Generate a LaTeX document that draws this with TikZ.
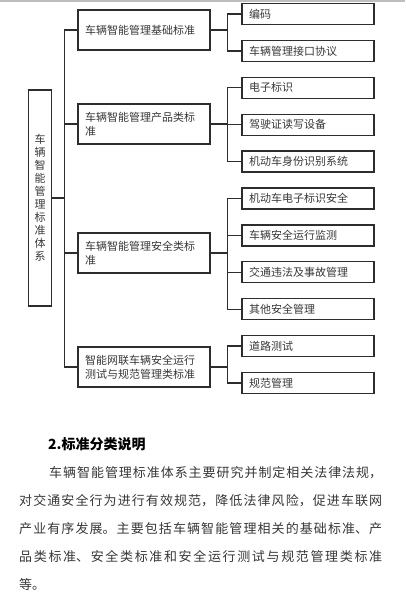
\documentclass[tikz,border=0pt]{standalone}
\usepackage{fontspec}
\usepackage{xcolor}
\usetikzlibrary{positioning, calc}
\setmainfont{Noto Sans CJK SC}
\XeTeXlinebreaklocale "zh"
\XeTeXlinebreakskip=0pt plus 2pt
\newcommand{\boxfont}{\fontsize{11pt}{14pt}\selectfont}
\newcommand{\bodyfont}{\fontsize{13pt}{28pt}\selectfont}
\definecolor{linegray}{RGB}{45, 45, 45}
\definecolor{textgray}{RGB}{55, 55, 55}
\definecolor{rulegray}{RGB}{190, 190, 190}
\tikzset{
  % Root box (vertical title)
  rootbox/.style={
    rectangle, draw=linegray, line width=1.3pt,
    minimum width=23pt, minimum height=216pt, inner sep=0pt,
    font=\fontsize{11pt}{13pt}\selectfont, align=center, text=textgray
  },
  % Category box
  catbox/.style={
    rectangle, draw=linegray, line width=1.3pt,
    minimum width=132pt, minimum height=40pt, inner xsep=7pt,
    text width=118pt, font=\boxfont, align=left, text=textgray
  },
  % Item box
  itembox/.style={
    rectangle, draw=linegray, line width=1.3pt,
    minimum width=132pt, minimum height=21pt, inner xsep=7pt, inner ysep=0pt,
    text width=118pt, font=\boxfont, align=left, text=textgray
  },
  % Elbow connector
  link/.style={line width=1.3pt, color=linegray},
}

\begin{document}
\begin{tikzpicture}[x=1pt, y=-1pt, node distance=14.6pt]
  \useasboundingbox (0,0) rectangle (405,602);
  \fill[rulegray] (0,0) rectangle (405,2.5);

  \node[rootbox] (root) at (40,198) {车\\辆\\智\\能\\管\\理\\标\\准\\体\\系};

  \node[catbox] (c1) at (144,30)  {车辆智能管理基础标准};
  \node[catbox] (c2) at (144,124) {车辆智能管理产品类标\\准};
  \node[catbox] (c3) at (144,253) {车辆智能管理安全类标\\准};
  \node[catbox] (c4) at (144,367) {智能网联车辆安全运行\\测试与规范管理类标准};

  \node[itembox] (i1) at (308,14) {编码};
  \node[itembox, below=of i1]  (i2)  {车辆管理接口协议};
  \node[itembox, below=of i2]  (i3)  {电子标识};
  \node[itembox, below=of i3]  (i4)  {驾驶证读写设备};
  \node[itembox, below=of i4]  (i5)  {机动车身份识别系统};
  \node[itembox, below=of i5]  (i6)  {机动车电子标识安全};
  \node[itembox, below=of i6]  (i7)  {车辆安全运行监测};
  \node[itembox, below=of i7]  (i8)  {交通违法及事故管理};
  \node[itembox, below=of i8]  (i9)  {其他安全管理};
  \node[itembox, below=of i9]  (i10) {道路测试};
  \node[itembox, below=of i10] (i11) {规范管理};

  \foreach \c in {c1,c2,c3,c4}
    \draw[link] (root.east) -- ++(12pt,0) |- (\c.west);
  \foreach \i in {i1,i2}
    \draw[link] (c1.east) -- ++(17pt,0) |- (\i.west);
  \foreach \i in {i3,i4,i5}
    \draw[link] (c2.east) -- ++(17pt,0) |- (\i.west);
  \foreach \i in {i6,i7,i8,i9}
    \draw[link] (c3.east) -- ++(17pt,0) |- (\i.west);
  \foreach \i in {i10,i11}
    \draw[link] (c4.east) -- ++(17pt,0) |- (\i.west);

  \node[anchor=west, inner sep=0pt, font=\bfseries\fontsize{14pt}{16pt}\selectfont]
    (head) at (48,444) {2.标准分类说明};
  \node[anchor=north west, inner sep=0pt, text width=363pt, align=justify,
    font=\bodyfont, text=textgray] (body) at (19,466)
    {\hspace*{30pt}车辆智能管理标准体系主要研究并制定相关法律法规，\linebreak
     对交通安全行为进行有效规范，降低法律风险，促进车联网\linebreak
     产业有序发展。主要包括车辆智能管理相关的基础标准、产\linebreak
     品类标准、安全类标准和安全运行测试与规范管理类标准\linebreak
     等。};
\end{tikzpicture}
\end{document}
